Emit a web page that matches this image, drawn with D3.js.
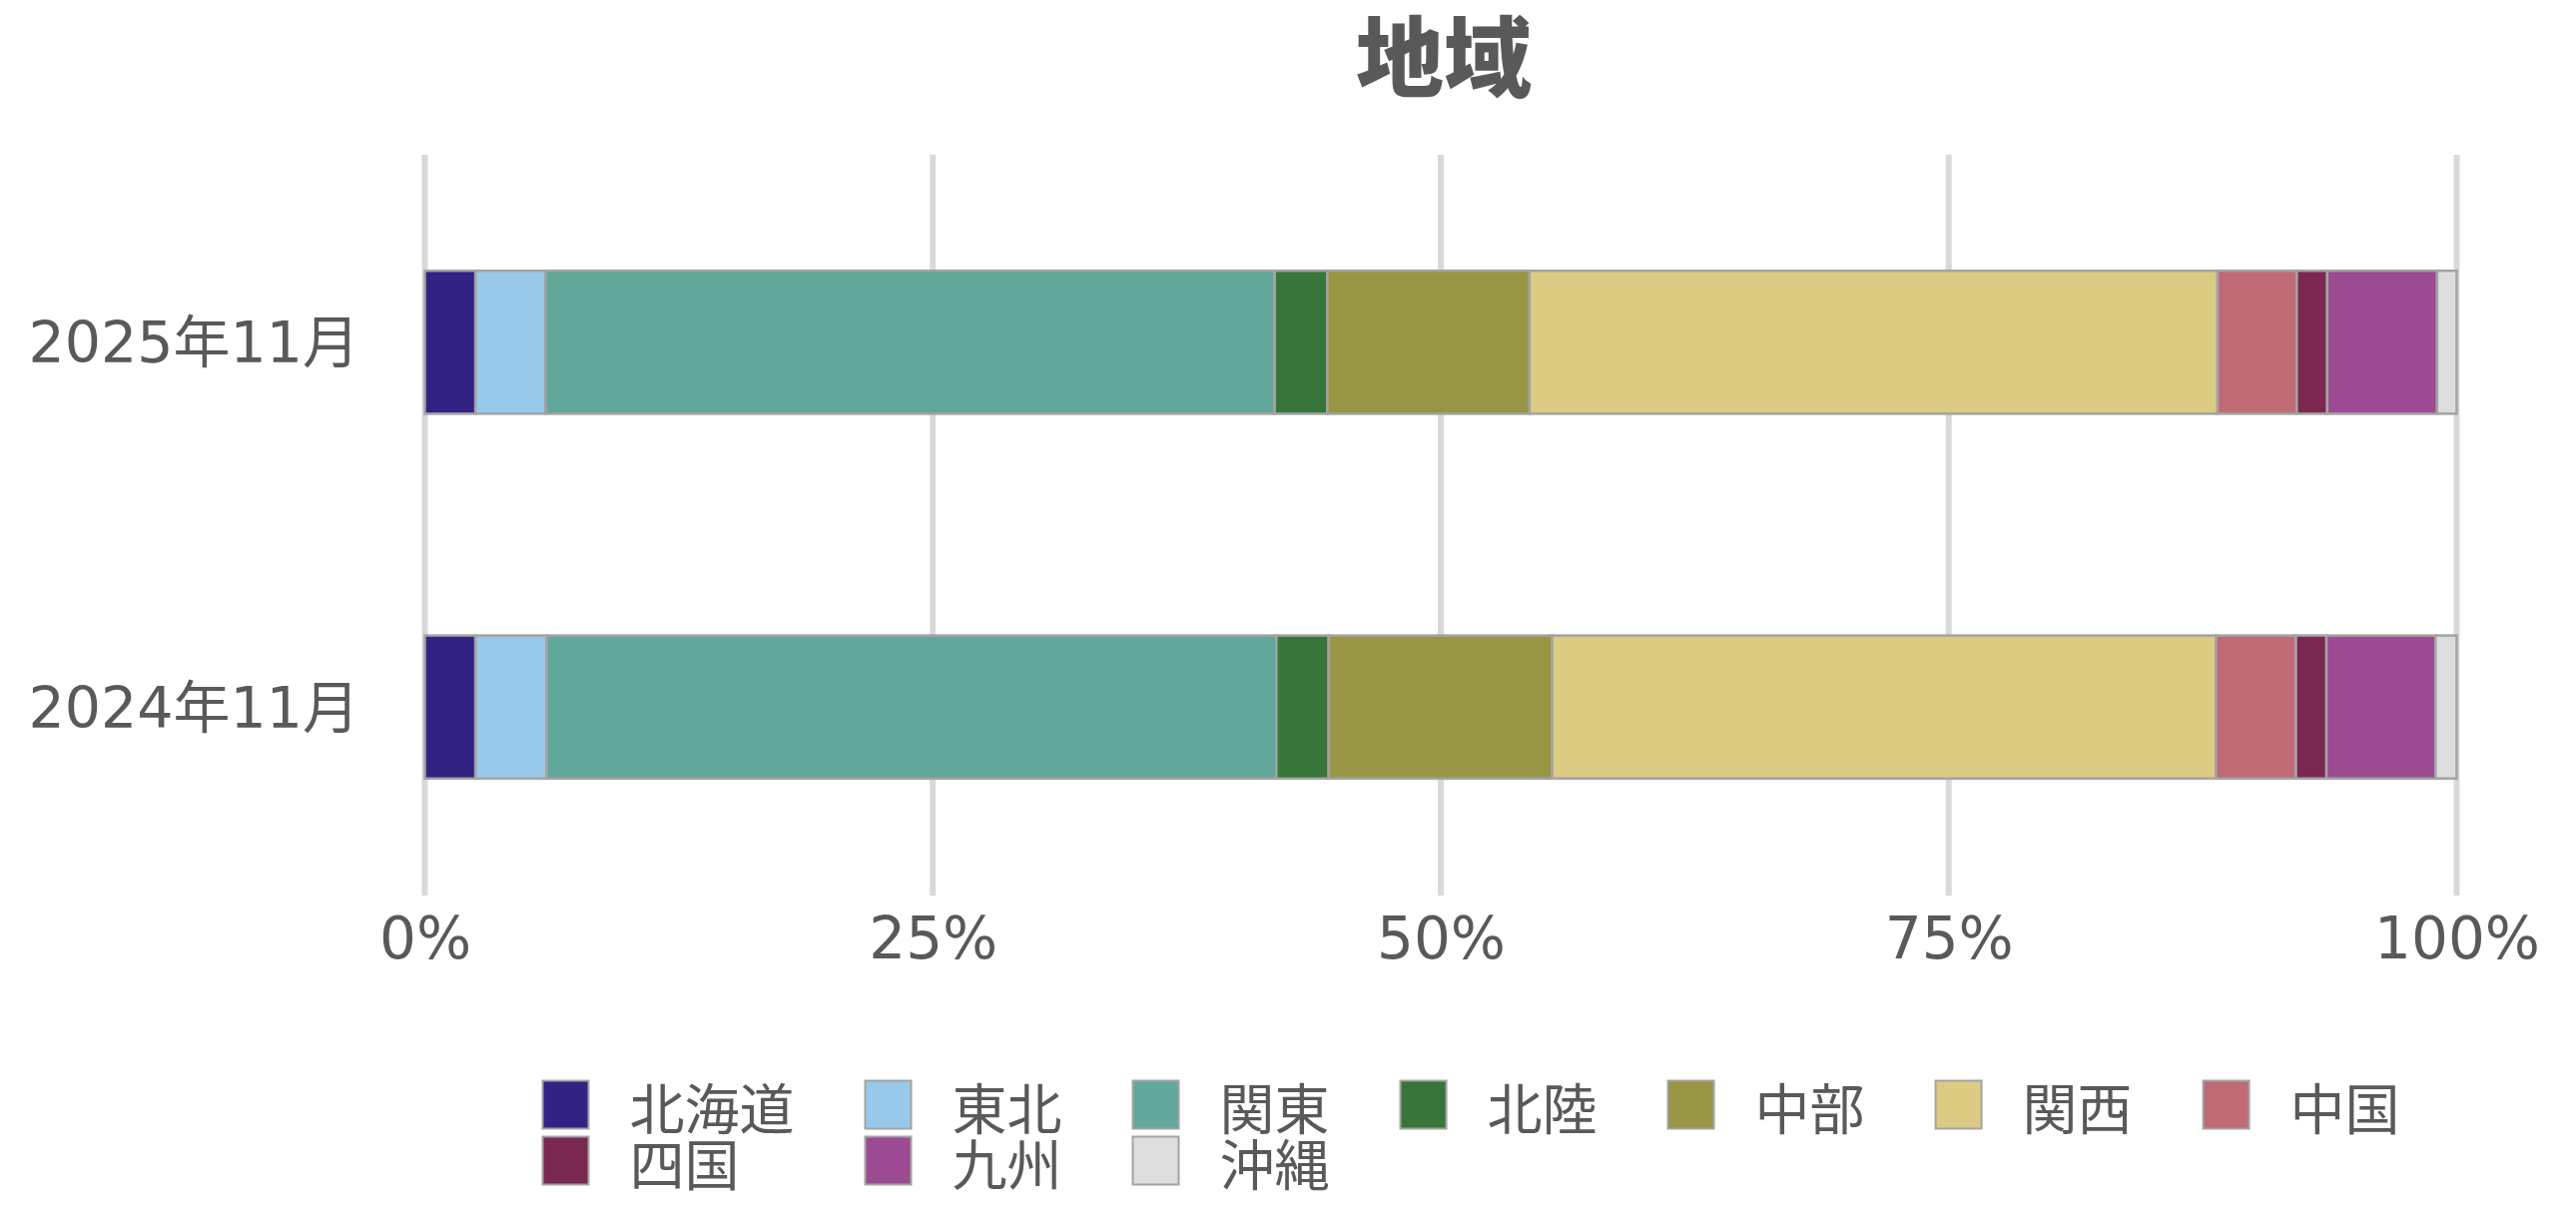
<!DOCTYPE html>
<html>
<head>
<meta charset="utf-8">
<script src="https://cdn.jsdelivr.net/npm/d3@7"></script>
<style>
  html, body { margin: 0; padding: 0; background: #ffffff; }
  svg { display: block; }
</style>
</head>
<body>
<svg id="chart" width="2580" height="1218"></svg>
<script>
// Regional share of the total, per period (percent)
const periods = ["2025年11月", "2024年11月"];
const regions = ["北海道", "東北", "関東", "北陸", "中部", "関西", "中国", "四国", "九州", "沖縄"];
const share2025 = [2.49, 3.44, 35.90, 2.59, 9.95, 33.86, 3.90, 1.50, 5.41, 0.96];
const share2024 = [2.49, 3.50, 35.92, 2.57, 11.00, 32.68, 3.93, 1.50, 5.37, 1.04];
const regionColors = ["#312283", "#98c9ea", "#61a89a", "#37753a", "#989644",
                      "#dccb82", "#bf6a75", "#7a2850", "#9c4a92", "#dddddd"];
const tickValues = [0, 0.25, 0.5, 0.75, 1];
const chartTitle = "地域";

const seriesByPeriod = [share2025, share2024];
const rows = periods.map((p, i) => {
  const row = { period: p };
  regions.forEach((r, j) => { row[r] = seriesByPeriod[i][j]; });
  return row;
});

const svg = d3.select("#chart");
const textColor = "#595959";
const latinFont = "'DejaVu Sans', 'Noto Sans CJK JP', sans-serif";
const cjkFont = "'Noto Sans CJK JP', sans-serif";

const x = d3.scaleLinear().domain([0, 1]).range([425.5, 2460.5]);
const y = d3.scaleBand().domain(periods).range([155, 896])
  .paddingInner(0.608).paddingOuter(0.318);
const color = d3.scaleOrdinal().domain(regions).range(regionColors);

const stacked = d3.stack().keys(regions).offset(d3.stackOffsetExpand)(rows);

// Title
svg.append("text")
  .attr("x", 1446).attr("y", 90)
  .attr("text-anchor", "middle")
  .attr("font-family", cjkFont).attr("font-weight", 900)
  .attr("font-size", 88).attr("fill", textColor)
  .text(chartTitle);

// Vertical gridlines
svg.append("g").selectAll("line").data(tickValues).join("line")
  .attr("x1", d => x(d)).attr("x2", d => x(d))
  .attr("y1", 155).attr("y2", 897)
  .attr("stroke", "#d9d9d9").attr("stroke-width", 6);

// Stacked bars
svg.append("g").selectAll("g").data(stacked).join("g")
  .attr("fill", d => color(d.key))
  .selectAll("rect").data(d => d).join("rect")
  .attr("x", d => x(d[0]))
  .attr("y", d => y(d.data.period))
  .attr("width", d => x(d[1]) - x(d[0]))
  .attr("height", y.bandwidth())
  .attr("stroke", "#a3a3a3").attr("stroke-width", 2.5);

// X axis tick labels
const xAxis = d3.axisBottom(x).tickValues(tickValues)
  .tickFormat(d3.format(".0%")).tickSize(0).tickPadding(0);
const gx = svg.append("g").attr("transform", "translate(0,960)").call(xAxis);
gx.select(".domain").remove();
gx.selectAll("text")
  .attr("y", 0).attr("dy", null)
  .attr("font-family", latinFont).attr("font-size", 58).attr("fill", textColor);

// Y axis category labels
const yAxis = d3.axisLeft(y).tickSize(0).tickPadding(0);
const gy = svg.append("g").attr("transform", "translate(360,0)").call(yAxis);
gy.select(".domain").remove();
gy.selectAll("text")
  .attr("x", 0).attr("dy", "0.36em")
  .attr("font-family", latinFont).attr("font-size", 57).attr("fill", textColor);

// Legend: entries filled row by row, columns sized to their widest label
const legend = svg.append("g");
const perRow = 7, startX = 543.5, rowY = [1106.5, 1162.5];
const swatchW = 46, swatchH = 48, textOffset = 87, itemGap = 71;
const legendFontSize = 55;

const measure = legend.append("text")
  .attr("font-family", cjkFont).attr("font-size", legendFontSize);
const labelWidth = regions.map(r => measure.text(r).node().getComputedTextLength());
measure.remove();

const colX = [];
let cursor = startX;
for (let c = 0; c < perRow; c++) {
  colX.push(cursor);
  let w = 0;
  for (let i = c; i < regions.length; i += perRow) w = Math.max(w, labelWidth[i]);
  cursor += textOffset + w + itemGap;
}

regions.forEach((r, i) => {
  const row = Math.floor(i / perRow), col = i % perRow;
  const item = legend.append("g");
  item.append("rect")
    .attr("x", colX[col]).attr("y", rowY[row] - swatchH / 2)
    .attr("width", swatchW).attr("height", swatchH)
    .attr("fill", color(r)).attr("stroke", "#a3a3a3").attr("stroke-width", 2);
  item.append("text")
    .attr("x", colX[col] + textOffset).attr("y", rowY[row])
    .attr("dominant-baseline", "central")
    .attr("font-family", cjkFont).attr("font-size", legendFontSize).attr("fill", textColor)
    .text(r);
});
</script>
</body>
</html>
